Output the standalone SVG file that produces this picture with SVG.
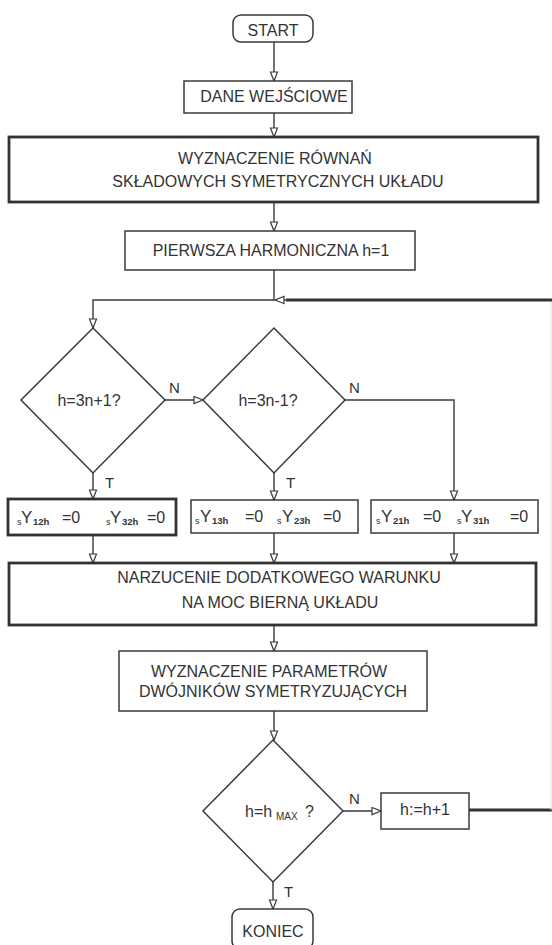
<svg xmlns="http://www.w3.org/2000/svg" width="552" height="945" viewBox="0 0 552 945">
<style>
  .bg{fill:#ffffff}
  .box{fill:#ffffff;stroke:#3a3a3a;stroke-width:1.5}
  .thick{fill:#ffffff;stroke:#333333;stroke-width:2.8}
  .ln{fill:none;stroke:#3a3a3a;stroke-width:1.4}
  .fb{fill:none;stroke:#333333;stroke-width:2.8}
  .fbv{fill:none;stroke:#e2e2e2;stroke-width:1}
  text{font-family:"Liberation Sans",Arial,sans-serif;fill:#333333;font-size:16px}
  .c{text-anchor:middle}
  .lab{font-size:15px}
  .y{font-size:17px}
  .sm{font-size:9px}
  .sub{font-size:9.5px;font-weight:bold}
  .max{font-size:10px}
</style>
<defs>
  <marker id="arr" markerUnits="userSpaceOnUse" markerWidth="12" markerHeight="10" refX="10" refY="4.5" orient="auto">
    <path d="M1,1 L10,4.5 L1,8 Z" fill="#ffffff" stroke="#3a3a3a" stroke-width="1.2"/>
  </marker>
</defs>
<rect class="bg" x="0" y="0" width="552" height="945"/>

<g id="connectors">
  <line class="ln" x1="274" y1="42" x2="274" y2="81" marker-end="url(#arr)"/>
  <line class="ln" x1="274" y1="113" x2="274" y2="137" marker-end="url(#arr)"/>
  <line class="ln" x1="274" y1="202" x2="274" y2="231" marker-end="url(#arr)"/>
  <polyline class="ln" points="274,270 274,300 93,300 93,328" marker-end="url(#arr)"/>
  <line class="ln" x1="165" y1="400" x2="203" y2="400" marker-end="url(#arr)"/>
  <polyline class="ln" points="345,400 454,400 454,500" marker-end="url(#arr)"/>
  <line class="ln" x1="93" y1="473" x2="93" y2="499" marker-end="url(#arr)"/>
  <line class="ln" x1="274" y1="473" x2="274" y2="500" marker-end="url(#arr)"/>
  <line class="ln" x1="93" y1="535" x2="93" y2="563" marker-end="url(#arr)"/>
  <line class="ln" x1="274" y1="533" x2="274" y2="563" marker-end="url(#arr)"/>
  <line class="ln" x1="454" y1="533" x2="454" y2="563" marker-end="url(#arr)"/>
  <line class="ln" x1="274" y1="625" x2="274" y2="651" marker-end="url(#arr)"/>
  <line class="ln" x1="274" y1="711" x2="274" y2="740" marker-end="url(#arr)"/>
  <line class="ln" x1="343" y1="811" x2="381" y2="811" marker-end="url(#arr)"/>
  <line class="ln" x1="273" y1="882" x2="273" y2="909" marker-end="url(#arr)"/>
  <line class="fb" x1="469" y1="810" x2="552" y2="810"/>
  <line class="fbv" x1="551" y1="300" x2="551" y2="810"/>
  <line class="fb" x1="552" y1="300" x2="286" y2="300"/>
  <line class="ln" x1="288" y1="300" x2="275" y2="300" marker-end="url(#arr)"/>
  <text class="lab" x="169" y="393">N</text>
  <text class="lab" x="349" y="393">N</text>
  <text class="lab" x="105" y="488">T</text>
  <text class="lab" x="286" y="488">T</text>
  <text class="lab" x="349" y="804">N</text>
  <text class="lab" x="284" y="897">T</text>
</g>

<g id="start">
  <rect class="box" x="233" y="15" width="80" height="27" rx="8"/>
  <text class="c" x="273" y="36">START</text>
</g>

<g id="dane">
  <rect class="box" x="184" y="81" width="168" height="32"/>
  <text class="c" x="274" y="102">DANE WEJŚCIOWE</text>
</g>

<g id="rownania">
  <rect class="thick" x="9" y="137" width="529" height="65"/>
  <text class="c" x="275" y="164">WYZNACZENIE RÓWNAŃ</text>
  <text class="c" x="278" y="187">SKŁADOWYCH SYMETRYCZNYCH UKŁADU</text>
</g>

<g id="harmoniczna">
  <rect class="box" x="125" y="231" width="290" height="39"/>
  <text class="c" x="271" y="256">PIERWSZA HARMONICZNA h=1</text>
</g>

<g id="dec1">
  <path class="box" d="M93,328 L165,400 L93,473 L21,400 Z"/>
  <text class="c" x="89" y="406">h=3n+1?</text>
</g>

<g id="dec2">
  <path class="box" d="M274,328 L345,400 L274,473 L203,400 Z"/>
  <text class="c" x="268" y="406">h=3n-1?</text>
</g>

<g id="y1">
  <rect class="thick" x="8" y="499" width="168" height="36"/>
  <text x="17" y="525" class="sm">s</text>
  <text x="21" y="523" class="y">Y</text>
  <text x="33" y="525" class="sub">12h</text>
  <text x="62" y="523">=0</text>
  <text x="106" y="525" class="sm">s</text>
  <text x="110" y="523" class="y">Y</text>
  <text x="122" y="525" class="sub">32h</text>
  <text x="147" y="523">=0</text>
</g>

<g id="y2">
  <rect class="box" x="191" y="500" width="167" height="33"/>
  <text x="195" y="524" class="sm">s</text>
  <text x="200" y="522" class="y">Y</text>
  <text x="212" y="524" class="sub">13h</text>
  <text x="245" y="522">=0</text>
  <text x="277" y="524" class="sm">s</text>
  <text x="282" y="522" class="y">Y</text>
  <text x="294" y="524" class="sub">23h</text>
  <text x="323" y="522">=0</text>
</g>

<g id="y3">
  <rect class="box" x="371" y="500" width="167" height="33"/>
  <text x="376" y="524" class="sm">s</text>
  <text x="381" y="522" class="y">Y</text>
  <text x="393" y="524" class="sub">21h</text>
  <text x="423" y="522">=0</text>
  <text x="457" y="524" class="sm">s</text>
  <text x="461" y="522" class="y">Y</text>
  <text x="473" y="524" class="sub">31h</text>
  <text x="510" y="522">=0</text>
</g>

<g id="warunek">
  <rect class="thick" x="9" y="563" width="527" height="62"/>
  <text class="c" x="279" y="583">NARZUCENIE DODATKOWEGO WARUNKU</text>
  <text class="c" x="280" y="608">NA MOC BIERNĄ UKŁADU</text>
</g>

<g id="parametry">
  <rect class="box" x="119" y="651" width="308" height="60"/>
  <text class="c" x="269" y="677">WYZNACZENIE PARAMETRÓW</text>
  <text class="c" x="273" y="697">DWÓJNIKÓW SYMETRYZUJĄCYCH</text>
</g>

<g id="dec3">
  <path class="box" d="M273,740 L343,811 L273,882 L203,811 Z"/>
  <text x="245" y="817">h=h</text>
  <text x="276" y="820" class="max">MAX</text>
  <text x="305" y="817">?</text>
</g>

<g id="inc">
  <rect class="box" x="381" y="793" width="88" height="36"/>
  <text class="c" x="425" y="815">h:=h+1</text>
</g>

<g id="koniec">
  <rect class="box" x="232" y="909" width="81" height="40" rx="8"/>
  <text class="c" x="273" y="937">KONIEC</text>
</g>
</svg>
